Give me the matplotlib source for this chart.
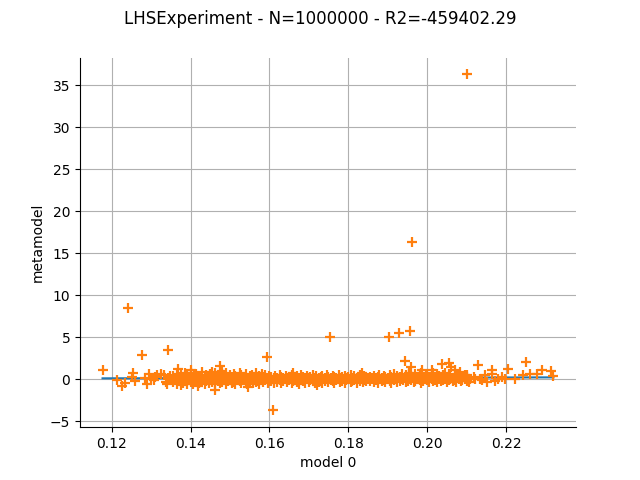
import matplotlib
matplotlib.use("Agg")
import matplotlib.pyplot as plt
import numpy as np

title = "LHSExperiment - N=1000000 - R2=-459402.29"
xlabel = "model 0"
ylabel = "metamodel"

# diagonal (model = metamodel)
diag_x = [0.1177, 0.2320]
diag_y = [0.1177, 0.2320]

# dense band, segment 1
seg1_x = [0.1356,0.1361,0.1367,0.1370,0.1376,0.1380,0.1386,0.1391,0.1394,0.1400,
          0.1406,0.1409,0.1415,0.1421,0.1424,0.1430,0.1436,0.1439,0.1446,0.1450,
          0.1454,0.1461,0.1465,0.1469,0.1476,0.1480,0.1484,0.1491,0.1495,0.1499,
          0.1506,0.1510,0.1514,0.1521,0.1525,0.1529,0.1536,0.1540,0.1544,0.1551,
          0.1555,0.1559,0.1566,0.1570,0.1574,0.1581,0.1585,0.1589,0.1596,0.1600]
seg1_hi = [0.4,0.2,0.6,0.3,0.5,0.1,0.7,0.4,0.2,0.8,0.3,0.5,0.6,0.2,0.4,0.9,0.3,0.5,0.1,0.6,
           0.4,0.7,0.2,0.5,0.3,0.6,0.4,0.8,0.2,0.5,0.3,0.6,0.4,0.2,0.7,0.5,0.3,0.6,0.1,0.4,
           0.5,0.3,0.7,0.2,0.4,0.6,0.3,0.5,0.2,0.4]
seg1_lo = [-0.3,-0.1,-0.5,-0.2,0.0,-0.4,-0.2,-0.6,-0.1,-0.3,-0.5,-0.2,0.0,-0.4,-0.3,-0.1,-0.6,-0.2,-0.4,0.0,
           -0.3,-0.5,-0.1,-0.2,-0.4,-0.3,0.0,-0.6,-0.2,-0.1,-0.4,-0.3,-0.5,-0.1,-0.2,-0.4,0.0,-0.3,-0.5,-0.2,
           -0.1,-0.4,-0.3,-0.2,-0.5,0.0,-0.3,-0.1,-0.4,-0.2]

# dense band, segment 2
seg2_x = [0.1605,0.1611,0.1614,0.1620,0.1626,0.1629,0.1635,0.1641,0.1644,0.1650,
          0.1656,0.1659,0.1665,0.1671,0.1674,0.1680,0.1686,0.1689,0.1695,0.1701,
          0.1704,0.1710,0.1716,0.1719,0.1725,0.1731,0.1734,0.1740,0.1746,0.1749,
          0.1755,0.1761,0.1764,0.1770,0.1776,0.1779,0.1785,0.1791,0.1794,0.1800,
          0.1806,0.1809,0.1815,0.1821,0.1824,0.1830,0.1836,0.1839,0.1845,0.1850]
seg2_hi = [0.3,0.1,0.4,0.2,0.5,0.3,0.1,0.4,0.2,0.3,0.5,0.1,0.3,0.4,0.2,0.5,0.3,0.1,0.4,0.2,
           0.3,0.5,0.2,0.4,0.1,0.3,0.4,0.2,0.5,0.3,0.1,0.4,0.3,0.2,0.5,0.1,0.3,0.4,0.2,0.3,
           0.5,0.2,0.4,0.1,0.3,0.5,0.2,0.4,0.3,0.2]
seg2_lo = [-0.2,-0.4,0.0,-0.3,-0.1,-0.45,-0.2,0.0,-0.3,-0.1,-0.4,-0.2,0.0,-0.3,-0.5,-0.1,-0.2,-0.4,0.0,-0.3,
           -0.1,-0.2,-0.45,0.0,-0.3,-0.1,-0.4,-0.2,0.0,-0.3,-0.1,-0.2,-0.4,-0.1,0.0,-0.3,-0.2,-0.45,-0.1,0.0,
           -0.3,-0.2,-0.1,-0.4,0.0,-0.2,-0.3,-0.1,-0.2,0.0]

# dense band, segment 3
seg3_x = [0.1855,0.1861,0.1864,0.1870,0.1876,0.1879,0.1885,0.1891,0.1894,0.1900,
          0.1906,0.1909,0.1915,0.1921,0.1924,0.1930,0.1936,0.1939,0.1945,0.1951,
          0.1954,0.1960,0.1966,0.1969,0.1975,0.1981,0.1984,0.1990,0.1996,0.1999,
          0.2005,0.2011,0.2014,0.2020,0.2026,0.2029,0.2035,0.2041,0.2044,0.2050,
          0.2056,0.2059,0.2065,0.2071,0.2074,0.2080,0.2086,0.2089,0.2095,0.2100]
seg3_hi = [0.3,0.2,0.4,0.1,0.3,0.5,0.2,0.4,0.3,0.1,0.5,0.3,0.6,0.2,0.4,0.3,0.6,0.2,0.5,0.3,
           0.7,0.4,0.2,0.6,0.3,0.5,0.7,0.3,0.4,0.6,0.2,0.5,0.7,0.3,0.6,0.4,0.2,0.5,0.7,0.3,
           0.6,0.4,0.2,0.5,0.3,0.6,0.4,0.2,0.5,0.3]
seg3_lo = [-0.2,0.0,-0.3,-0.1,-0.4,0.0,-0.2,-0.1,-0.3,0.0,-0.2,-0.4,-0.1,0.0,-0.3,-0.2,0.0,-0.1,-0.3,-0.2,
           0.0,-0.1,-0.3,-0.2,0.0,-0.1,-0.4,-0.2,0.0,-0.1,-0.3,0.0,-0.2,-0.1,-0.3,0.0,-0.2,-0.1,0.0,-0.3,
           -0.1,0.0,-0.2,-0.1,-0.3,0.0,-0.2,-0.1,0.0,-0.2]

# sparse left part
left_x = [0.1178,0.1214,0.1227,0.1234,0.1251,0.1254,0.1260,0.1276,0.1290,0.1294,
          0.1299,0.1307,0.1316,0.1324,0.1332,0.1337,0.1343,0.1352,0.1344,0.1241,
          0.1369,0.1375,0.1340,0.1310,0.1285,0.1347]
left_y = [1.07,-0.04,-0.83,-0.44,0.28,0.75,-0.2,2.86,-0.52,0.68,
          0.08,-0.12,0.48,0.68,0.48,-0.3,3.45,0.0,0.2,8.45,
          1.27,-0.71,-0.5,0.3,0.2,0.45]

# sparse right tail
right_x = [0.2101,0.2105,0.2109,0.2122,0.2128,0.2134,0.2147,0.2151,0.2164,0.2165,
           0.2180,0.2197,0.2204,0.2223,0.2244,0.2250,0.2260,0.2278,0.2290,0.2314,
           0.2320,0.2172,0.2189,0.2118,0.2138]
right_y = [0.48,-0.3,0.08,0.08,1.7,0.08,0.48,-0.3,0.68,1.15,
           0.08,0.08,1.2,0.08,0.48,2.06,0.68,0.68,1.15,0.95,
           0.36,-0.2,0.3,0.3,-0.1]

# outliers
out_x = [0.2101,0.1962,0.1754,0.1903,0.1928,0.1957,0.1595,0.1610,0.1462,0.1476,
         0.1455,0.1944,0.1959,0.2037,0.2056,0.2061,0.2071,0.2084,0.1988,0.2012,
         0.1982,0.1953,0.1420,0.1480,0.1545,0.1660,0.1720,0.1835,0.1400]
out_y = [36.3,16.4,5.0,5.0,5.5,5.8,2.7,-3.7,-1.23,1.55,
         0.87,2.2,1.46,1.87,1.94,1.46,1.07,0.87,1.07,1.07,
         0.68,0.68,-0.8,1.0,-0.9,0.8,-0.7,0.7,1.1]

fig = plt.figure(figsize=(6.4, 4.8), dpi=100)
ax = fig.add_subplot(111)
ax.plot(diag_x, diag_y, color="C0", zorder=2)

pts_x = seg1_x * 2 + seg2_x * 2 + seg3_x * 2 + left_x + right_x + out_x
pts_y = seg1_hi + seg1_lo + seg2_hi + seg2_lo + seg3_hi + seg3_lo + left_y + right_y + out_y
ax.plot(pts_x, pts_y, linestyle="none", marker="+", color="C1",
        markersize=6.5, markeredgewidth=1.6, zorder=3)

ax.grid(True)
ax.set_axisbelow(True)
ax.spines["top"].set_visible(False)
ax.spines["right"].set_visible(False)
ax.set_xlabel(xlabel)
ax.set_ylabel(ylabel)
fig.suptitle(title)
fig.savefig("out.png", dpi=100)
